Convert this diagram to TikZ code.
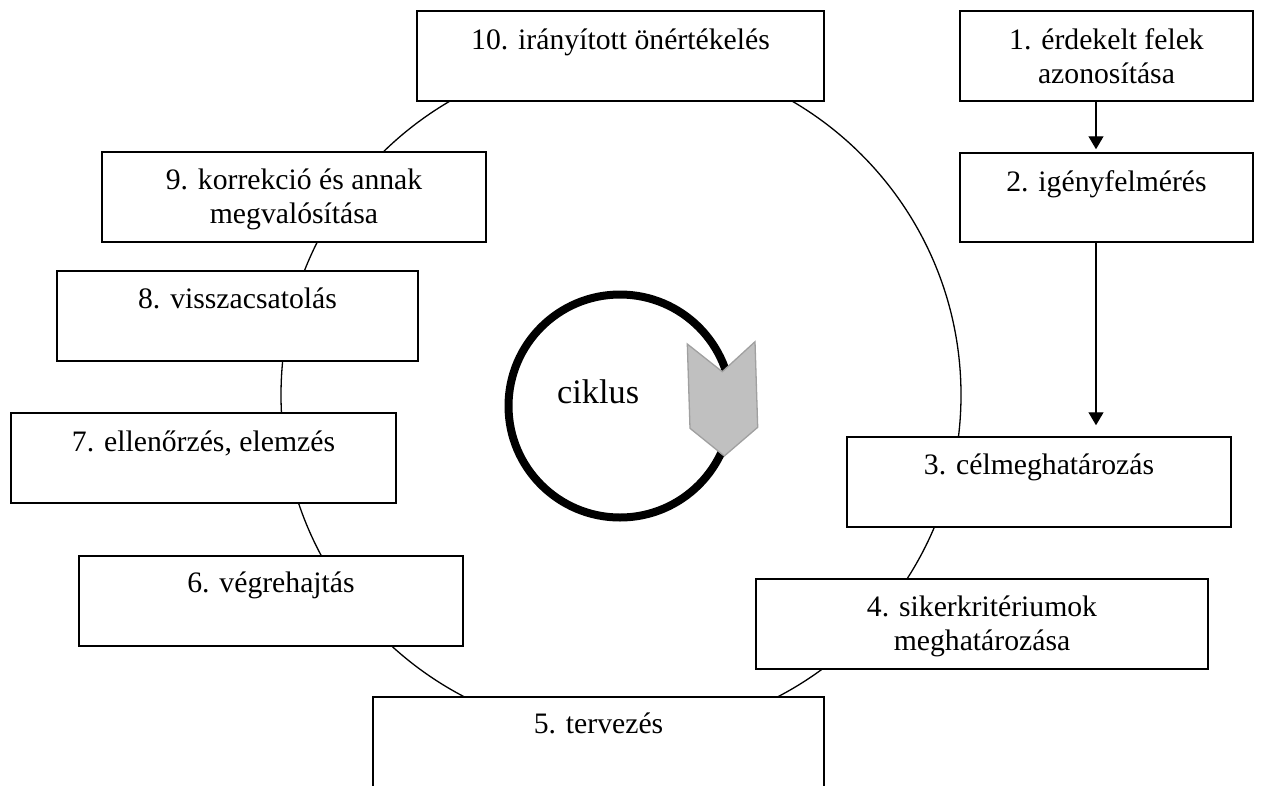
\documentclass[tikz,border=0pt]{standalone}
\usepackage{fontspec}
\setmainfont{Liberation Serif}
\usetikzlibrary{arrows.meta,calc}
\definecolor{chevfill}{HTML}{C0C0C0}
\definecolor{chevline}{HTML}{A0A0A0}
\newcommand{\boxfont}{\fontsize{29.7pt}{34pt}\selectfont}
\newcommand{\bigfont}{\fontsize{34.3pt}{40pt}\selectfont}
\newcommand{\fl}{\rule{0pt}{27pt}}
\begin{document}
\begin{tikzpicture}[x=1pt,y=-1pt,
  stepbox/.style={draw, line width=1.5pt, fill=white, rectangle, inner sep=0pt},
  boxtext/.style={anchor=north, inner sep=0pt, align=center, font=\boxfont},
  flow/.style={line width=1.3pt, -{Triangle[width=15pt,length=13pt]}},
  ring/.style={line width=1.3pt},
]
\useasboundingbox (0,0) rectangle (1277,785);
% big cycle ring
\draw[ring] (621,395) circle[radius=340];
% boxes
\node[stepbox, minimum width=293pt, minimum height=90pt] (b1) at (1106.5,56) {};
\node[stepbox, minimum width=293pt, minimum height=89pt] (b2) at (1106.5,197.5) {};
\node[stepbox, minimum width=384pt, minimum height=90pt] (b3) at (1039,482) {};
\node[stepbox, minimum width=452pt, minimum height=90pt] (b4) at (982,624) {};
\node[stepbox, minimum width=451pt, minimum height=103pt] (b5) at (598.5,748.5) {};
\node[stepbox, minimum width=384pt, minimum height=90pt] (b6) at (271,601) {};
\node[stepbox, minimum width=385pt, minimum height=90pt] (b7) at (203.5,458) {};
\node[stepbox, minimum width=361pt, minimum height=90pt] (b8) at (237.5,316) {};
\node[stepbox, minimum width=384pt, minimum height=90pt] (b9) at (294,197) {};
\node[stepbox, minimum width=407pt, minimum height=90pt] (b10) at (620.5,56) {};
% texts
\node[boxtext] (t1) at ($(b1.north)+(0,12)$) {\fl 1. érdekelt felek\\azonosítása};
\node[boxtext] (t2) at ($(b2.north)+(0,12)$) {\fl 2. igényfelmérés};
\node[boxtext] (t3) at ($(b3.north)+(0,11)$) {\fl 3. célmeghatározás};
\node[boxtext] (t4) at ($(b4.north)+(0,11)$) {\fl 4. sikerkritériumok\\meghatározása};
\node[boxtext] (t5) at ($(b5.north)+(0,10)$) {\fl 5. tervezés};
\node[boxtext] (t6) at ($(b6.north)+(0,10)$) {\fl 6. végrehajtás};
\node[boxtext] (t7) at ($(b7.north)+(0,12)$) {\fl 7. ellenőrzés, elemzés};
\node[boxtext] (t8) at ($(b8.north)+(0,11)$) {\fl 8. visszacsatolás};
\node[boxtext] (t9) at ($(b9.north)+(0,11)$) {\fl 9. korrekció és annak\\megvalósítása};
\node[boxtext] (t10) at ($(b10.north)+(0,12)$) {\fl 10. irányított önértékelés};
% arrows
\coordinate (ax) at (1096,0);
\draw[flow, shorten >=3pt] (b1.south -| ax) -- (b2.north -| ax);
\draw[flow, shorten >=11pt] (b2.south -| ax) -- (b3.north -| ax);
% inner cycle symbol
\draw[line width=8pt] (620,406) circle[radius=111.5];
\draw[fill=chevfill, draw=chevline, line width=1.3pt, line join=miter]
  (687.3,344) -- (722.3,371.7) -- (755,341.7) -- (757.7,427.3) -- (724.3,456) -- (690,428.3) -- cycle;
\node[anchor=base west, inner sep=0pt, font=\bigfont] (cik) at (557,403) {ciklus};
\end{tikzpicture}
\end{document}
